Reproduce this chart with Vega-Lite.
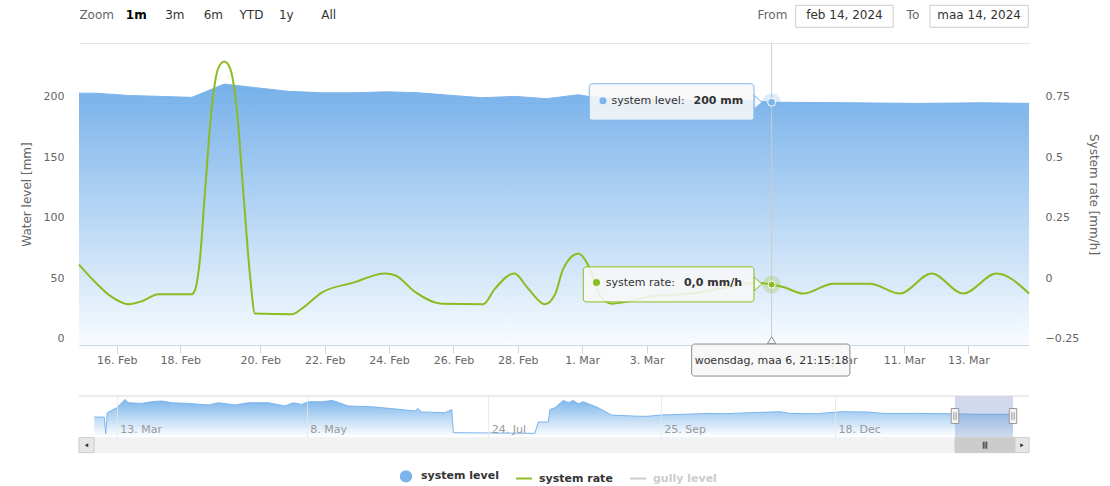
{
  "$schema": "https://vega.github.io/schema/vega-lite/v6.json",
  "padding": {"left": 20, "top": 4, "right": 14, "bottom": 2},
  "bounds": "flush",
  "spacing": 51,
  "config": {
    "view": {"stroke": null},
    "font": "DejaVu Sans",
    "axis": {"labelFont": "DejaVu Sans", "titleFont": "DejaVu Sans"},
    "legend": {"labelFont": "DejaVu Sans"}
  },
  "datasets": {
    "level": [
      {"t": "2024-02-14T19:30Z", "v": 208.5},
      {"t": "2024-02-15T07:35Z", "v": 208.5},
      {"t": "2024-02-16T08:43Z", "v": 206.6},
      {"t": "2024-02-18T06:50Z", "v": 205},
      {"t": "2024-02-19T02:24Z", "v": 216},
      {"t": "2024-02-20T20:53Z", "v": 210},
      {"t": "2024-02-21T21:46Z", "v": 208.8},
      {"t": "2024-02-22T22:32Z", "v": 208.8},
      {"t": "2024-02-23T22:15Z", "v": 209.6},
      {"t": "2024-02-24T21:48Z", "v": 208.8},
      {"t": "2024-02-26T21:04Z", "v": 204.7},
      {"t": "2024-02-27T21:53Z", "v": 205.8},
      {"t": "2024-02-28T21:32Z", "v": 203.9},
      {"t": "2024-02-29T21:06Z", "v": 207.2},
      {"t": "2024-03-01T06:00Z", "v": 205.5},
      {"t": "2024-03-02T04:11Z", "v": 204},
      {"t": "2024-03-04T15:50Z", "v": 202.5},
      {"t": "2024-03-06T07:34Z", "v": 202.2},
      {"t": "2024-03-06T21:15Z", "v": 201},
      {"t": "2024-03-09T07:39Z", "v": 200.5},
      {"t": "2024-03-11T09:23Z", "v": 200},
      {"t": "2024-03-13T11:02Z", "v": 200.5},
      {"t": "2024-03-14T21:10Z", "v": 200}
    ],
    "rate": [
      {"t": "2024-02-14T19:30Z", "r": 0.083},
      {"t": "2024-02-15T07:35Z", "r": 0.011},
      {"t": "2024-02-15T20:12Z", "r": -0.051},
      {"t": "2024-02-16T08:43Z", "r": -0.081},
      {"t": "2024-02-16T18:51Z", "r": -0.069},
      {"t": "2024-02-17T07:23Z", "r": -0.04},
      {"t": "2024-02-18T06:50Z", "r": -0.04},
      {"t": "2024-02-18T08:49Z", "r": -0.023},
      {"t": "2024-02-18T11:49Z", "r": 0.108},
      {"t": "2024-02-18T14:49Z", "r": 0.384},
      {"t": "2024-02-18T18:50Z", "r": 0.73},
      {"t": "2024-02-18T22:48Z", "r": 0.896},
      {"t": "2024-02-19T02:24Z", "r": 0.923},
      {"t": "2024-02-19T05:49Z", "r": 0.896},
      {"t": "2024-02-19T09:50Z", "r": 0.73},
      {"t": "2024-02-19T13:48Z", "r": 0.384},
      {"t": "2024-02-19T17:49Z", "r": 0.039},
      {"t": "2024-02-19T20:49Z", "r": -0.12},
      {"t": "2024-02-20T23:25Z", "r": -0.123},
      {"t": "2024-02-21T06:52Z", "r": -0.1},
      {"t": "2024-02-21T21:46Z", "r": -0.033},
      {"t": "2024-02-22T21:20Z", "r": 0.008},
      {"t": "2024-02-23T20:58Z", "r": 0.046},
      {"t": "2024-02-24T04:25Z", "r": 0.039},
      {"t": "2024-02-24T19:20Z", "r": -0.03},
      {"t": "2024-02-25T15:15Z", "r": -0.079},
      {"t": "2024-02-26T22:16Z", "r": -0.081},
      {"t": "2024-02-27T06:59Z", "r": -0.017},
      {"t": "2024-02-27T21:23Z", "r": 0.046},
      {"t": "2024-02-28T07:49Z", "r": -0.017},
      {"t": "2024-02-28T20:15Z", "r": -0.081},
      {"t": "2024-02-29T03:43Z", "r": -0.041},
      {"t": "2024-02-29T09:55Z", "r": 0.066},
      {"t": "2024-02-29T21:06Z", "r": 0.129},
      {"t": "2024-03-01T05:48Z", "r": 0.066},
      {"t": "2024-03-01T13:16Z", "r": -0.044},
      {"t": "2024-03-01T21:59Z", "r": -0.079},
      {"t": "2024-03-03T02:33Z", "r": -0.05},
      {"t": "2024-03-04T15:50Z", "r": -0.033},
      {"t": "2024-03-05T11:44Z", "r": -0.01},
      {"t": "2024-03-06T10:06Z", "r": 0.008},
      {"t": "2024-03-06T21:15Z", "r": 0.0},
      {"t": "2024-03-07T05:56Z", "r": -0.01},
      {"t": "2024-03-07T20:50Z", "r": -0.037},
      {"t": "2024-03-08T19:12Z", "r": 0.004},
      {"t": "2024-03-09T22:34Z", "r": 0.004},
      {"t": "2024-03-10T20:56Z", "r": -0.037},
      {"t": "2024-03-11T20:34Z", "r": 0.046},
      {"t": "2024-03-12T20:08Z", "r": -0.037},
      {"t": "2024-03-13T21:02Z", "r": 0.046},
      {"t": "2024-03-14T21:10Z", "r": -0.037}
    ],
    "nav": [
      {"t": "2023-03-06T11:00Z", "v": 180},
      {"t": "2023-03-09T09:00Z", "v": 180},
      {"t": "2023-03-09T19:00Z", "v": 30},
      {"t": "2023-03-10T06:00Z", "v": 219},
      {"t": "2023-03-13T00:00Z", "v": 264},
      {"t": "2023-03-15T11:00Z", "v": 339},
      {"t": "2023-03-16T10:00Z", "v": 309},
      {"t": "2023-03-20T09:00Z", "v": 303},
      {"t": "2023-03-23T08:00Z", "v": 318},
      {"t": "2023-03-26T06:00Z", "v": 325},
      {"t": "2023-03-29T05:00Z", "v": 309},
      {"t": "2023-04-03T02:00Z", "v": 303},
      {"t": "2023-04-09T00:00Z", "v": 289},
      {"t": "2023-04-11T23:00Z", "v": 309},
      {"t": "2023-04-16T21:00Z", "v": 289},
      {"t": "2023-04-20T19:00Z", "v": 309},
      {"t": "2023-04-26T16:00Z", "v": 309},
      {"t": "2023-05-01T14:00Z", "v": 280},
      {"t": "2023-05-04T01:00Z", "v": 309},
      {"t": "2023-05-06T12:00Z", "v": 294},
      {"t": "2023-05-08T16:00Z", "v": 318},
      {"t": "2023-05-14T09:00Z", "v": 318},
      {"t": "2023-05-18T21:00Z", "v": 330},
      {"t": "2023-05-25T15:00Z", "v": 280},
      {"t": "2023-06-05T23:00Z", "v": 271},
      {"t": "2023-06-22T22:00Z", "v": 235},
      {"t": "2023-06-24T02:00Z", "v": 258},
      {"t": "2023-06-25T18:00Z", "v": 226},
      {"t": "2023-07-05T16:00Z", "v": 219},
      {"t": "2023-07-08T12:00Z", "v": 249},
      {"t": "2023-07-09T04:00Z", "v": 39},
      {"t": "2023-08-10T01:00Z", "v": 33},
      {"t": "2023-08-11T06:00Z", "v": 135},
      {"t": "2023-08-14T22:00Z", "v": 135},
      {"t": "2023-08-15T13:00Z", "v": 249},
      {"t": "2023-08-17T09:00Z", "v": 264},
      {"t": "2023-08-20T10:00Z", "v": 330},
      {"t": "2023-08-22T06:00Z", "v": 309},
      {"t": "2023-08-24T01:00Z", "v": 330},
      {"t": "2023-08-25T21:00Z", "v": 300},
      {"t": "2023-08-27T17:00Z", "v": 318},
      {"t": "2023-09-01T15:00Z", "v": 271},
      {"t": "2023-09-07T02:00Z", "v": 198},
      {"t": "2023-09-14T23:00Z", "v": 189},
      {"t": "2023-09-19T21:00Z", "v": 186},
      {"t": "2023-09-25T00:00Z", "v": 198},
      {"t": "2023-10-18T18:00Z", "v": 213},
      {"t": "2023-10-25T04:00Z", "v": 210},
      {"t": "2023-11-07T01:00Z", "v": 219},
      {"t": "2023-11-21T12:00Z", "v": 228},
      {"t": "2023-11-26T07:00Z", "v": 213},
      {"t": "2023-12-09T04:00Z", "v": 210},
      {"t": "2023-12-21T07:00Z", "v": 228},
      {"t": "2024-01-02T13:00Z", "v": 226},
      {"t": "2024-01-10T16:00Z", "v": 213},
      {"t": "2024-01-27T01:00Z", "v": 213},
      {"t": "2024-02-12T09:00Z", "v": 210},
      {"t": "2024-02-29T00:00Z", "v": 204},
      {"t": "2024-03-14T05:30Z", "v": 204},
      {"t": "2024-03-14T21:10Z", "v": 200}
    ],
    "toprow": [
      {"t": "2024-02-15T08:52Z", "v": 272.9, "label": "Zoom", "kind": "lbl"},
      {"t": "2024-02-16T14:46Z", "v": 272.9, "label": "1m", "kind": "sel"},
      {"t": "2024-02-17T19:51Z", "v": 272.9, "label": "3m", "kind": "btn"},
      {"t": "2024-02-18T19:48Z", "v": 272.9, "label": "6m", "kind": "btn"},
      {"t": "2024-02-19T18:43Z", "v": 272.9, "label": "YTD", "kind": "btn"},
      {"t": "2024-02-20T19:23Z", "v": 272.9, "label": "1y", "kind": "btn"},
      {"t": "2024-02-22T03:00Z", "v": 272.9, "label": "All", "kind": "btn"},
      {"t": "2024-03-06T21:53Z", "v": 272.9, "label": "From", "kind": "lbl"},
      {"t": "2024-03-11T06:37Z", "v": 272.9, "label": "To", "kind": "lbl"},
      {"t": "2024-03-09T03:33Z", "v": 272.9, "label": "feb 14, 2024", "kind": "date"},
      {"t": "2024-03-13T08:00Z", "v": 272.9, "label": "maa 14, 2024", "kind": "date"}
    ]
  },
  "vconcat": [
    {
      "width": 950,
      "height": 302,
      "encoding": {
        "x": {
          "field": "t", "type": "quantitative",
          "scale": {
            "type": "linear",
            "domain": [1707939000000, 1708214400000, 1708387200000, 1710450600000],
            "range": [0, 101.3, 181.3, 950],
            "nice": false,
            "zero": false
          },
          "axis": {
            "title": null,
            "values": [1708041600000, 1708214400000, 1708387200000, 1708560000000, 1708732800000, 1708905600000, 1709078400000, 1709251200000, 1709424000000, 1709596800000, 1709769600000, 1709942400000, 1710115200000, 1710288000000],
            "labelExpr": "utcFormat(datum.value, '%-d. %b')",
            "grid": false,
            "labelFontSize": 11,
            "labelColor": "#666666",
            "domainColor": "#ccd6eb",
            "tickColor": "#ccd6eb",
            "tickSize": 8,
            "labelPadding": 1,
            "labelFlush": false,
            "labelOverlap": false
          }
        }
      },
      "layer": [
        {
          "encoding": {
            "y": {
              "field": "v", "type": "quantitative",
              "scale": {"domain": [0, 250], "nice": false, "zero": false},
              "axis": {
                "orient": "left",
                "title": "Water level [mm]",
                "titleFontSize": 12,
                "titleFontWeight": "normal",
                "titleColor": "#666666",
                "titlePadding": 10,
                "values": [0, 50, 100, 150, 200, 250],
                "labelExpr": "datum.value == 250 ? '' : datum.label",
                "labelFontSize": 11,
                "labelColor": "#666666",
                "labelPadding": 15,
                "labelBaseline": "middle",
                "labelOffset": -6.5,
                "labelFlush": false,
                "labelOverlap": false,
                "ticks": false,
                "domain": false,
                "grid": true,
                "gridColor": "#e6e6e6"
              }
            }
          },
          "layer": [
            {
              "data": {"name": "level", "format": {"parse": {"t": "date"}}},
              "mark": {
                "type": "area",
                "opacity": 1,
                "fillOpacity": 0.85,
                "fill": {
                  "gradient": "linear", "x1": 0, "y1": 0, "x2": 0, "y2": 1,
                  "stops": [
                    {"offset": 0, "color": "#5ea3e6"},
                    {"offset": 1, "color": "#f7fbff"}
                  ]
                },
                "line": {"color": "#7cb5ec", "strokeWidth": 1}
              }
            },
            {
              "data": {"values": [{"t": "2024-03-06T21:15:18Z", "v": 0, "v2": 250}], "format": {"parse": {"t": "date"}}},
              "mark": {"type": "rule", "color": "#cccccc", "strokeWidth": 1},
              "encoding": {"y2": {"field": "v2"}}
            },
            {
              "data": {"values": [{"t": "2024-03-06T21:15:18Z", "v": 201}], "format": {"parse": {"t": "date"}}},
              "mark": {"type": "point", "filled": true, "shape": "circle", "size": 324, "color": "#7cb5ec", "opacity": 0.25}
            },
            {
              "data": {"values": [{"t": "2024-03-06T21:15:18Z", "v": 201}], "format": {"parse": {"t": "date"}}},
              "mark": {"type": "point", "filled": true, "shape": "circle", "size": 64, "fill": "#7cb5ec", "stroke": "#ffffff", "strokeWidth": 1, "opacity": 1}
            },
            {
              "data": {"values": [
                {"t": "2024-03-07T15:10Z", "t2": "2024-03-10T15:56Z", "v": 281.2, "v2": 263},
                {"t": "2024-03-11T19:18Z", "t2": "2024-03-14T20:36Z", "v": 281.2, "v2": 263}
              ], "format": {"parse": {"t": "date", "t2": "date"}}},
              "mark": {"type": "rect", "fill": "#ffffff", "stroke": "#cccccc", "strokeWidth": 1},
              "encoding": {"x2": {"field": "t2"}, "y2": {"field": "v2"}}
            },
            {
              "data": {"name": "toprow", "format": {"parse": {"t": "date"}}},
              "transform": [{"filter": "datum.kind == 'lbl'"}],
              "mark": {"type": "text", "align": "center", "baseline": "middle", "fontSize": 12, "color": "#666666"},
              "encoding": {"text": {"field": "label"}}
            },
            {
              "data": {"name": "toprow", "format": {"parse": {"t": "date"}}},
              "transform": [{"filter": "datum.kind == 'sel'"}],
              "mark": {"type": "text", "align": "center", "baseline": "middle", "fontSize": 12, "fontWeight": "bold", "color": "#000000"},
              "encoding": {"text": {"field": "label"}}
            },
            {
              "data": {"name": "toprow", "format": {"parse": {"t": "date"}}},
              "transform": [{"filter": "datum.kind == 'btn' || datum.kind == 'date'"}],
              "mark": {"type": "text", "align": "center", "baseline": "middle", "fontSize": 12, "color": "#333333"},
              "encoding": {"text": {"field": "label"}}
            },
            {
              "data": {"values": [{"t": "2024-03-06T11:04Z", "v": 201}], "format": {"parse": {"t": "date"}}},
              "mark": {"type": "point", "filled": true, "shape": "M-1,-1.75L1,0L-1,1.75Z", "size": 64, "fill": "#f7f7f7", "stroke": "#7cb5ec", "strokeWidth": 1, "opacity": 1}
            },
            {
              "data": {"values": [{"t": "2024-03-01T05:17Z", "t2": "2024-03-06T08:05Z", "v": 216.3, "v2": 186.1}], "format": {"parse": {"t": "date", "t2": "date"}}},
              "mark": {"type": "rect", "fill": "#f7f7f7", "fillOpacity": 0.88, "stroke": "#7cb5ec", "strokeWidth": 1, "cornerRadius": 3},
              "encoding": {"x2": {"field": "t2"}, "y2": {"field": "v2"}}
            },
            {
              "data": {"values": [{"t": "2024-03-01T15:30Z", "v": 202.2}], "format": {"parse": {"t": "date"}}},
              "mark": {"type": "point", "filled": true, "shape": "circle", "size": 49, "color": "#7cb5ec", "opacity": 1}
            },
            {
              "data": {"values": [{"t": "2024-03-01T21:50Z", "v": 202.2, "label": "system level:"}], "format": {"parse": {"t": "date"}}},
              "mark": {"type": "text", "align": "left", "baseline": "middle", "fontSize": 11, "color": "#333333"},
              "encoding": {"text": {"field": "label"}}
            },
            {
              "data": {"values": [{"t": "2024-03-04T11:00Z", "v": 202.2, "label": "200 mm"}], "format": {"parse": {"t": "date"}}},
              "mark": {"type": "text", "align": "left", "baseline": "middle", "fontSize": 11, "fontWeight": "bold", "color": "#333333"},
              "encoding": {"text": {"field": "label"}}
            },
            {
              "data": {"values": [{"t": "2024-03-06T21:15:18Z", "v": 4.0}], "format": {"parse": {"t": "date"}}},
              "mark": {"type": "point", "filled": true, "shape": "M-1.2,1L0,-1L1.2,1Z", "size": 49, "fill": "#f7f7f7", "stroke": "#8c8c8c", "strokeWidth": 1, "opacity": 1}
            },
            {
              "data": {"values": [{"t": "2024-03-04T09:38Z", "t2": "2024-03-09T07:39Z", "v": 0.8, "v2": -25.7}], "format": {"parse": {"t": "date", "t2": "date"}}},
              "mark": {"type": "rect", "fill": "#f7f7f7", "fillOpacity": 0.92, "stroke": "#8c8c8c", "strokeWidth": 1, "cornerRadius": 3},
              "encoding": {"x2": {"field": "t2"}, "y2": {"field": "v2"}}
            },
            {
              "data": {"values": [{"t": "2024-03-06T21:15:18Z", "v": -13.3, "label": "woensdag, maa 6, 21:15:18"}], "format": {"parse": {"t": "date"}}},
              "mark": {"type": "text", "align": "center", "baseline": "middle", "fontSize": 11, "color": "#333333"},
              "encoding": {"text": {"field": "label"}}
            },
            {
              "data": {"values": [
                {"series": "system level", "t": "2024-02-20T00:00Z", "v": 100},
                {"series": "system rate", "t": "2024-02-20T00:00Z", "v": 100},
                {"series": "gully level", "t": "2024-02-20T00:00Z", "v": 100}
              ], "format": {"parse": {"t": "date"}}},
              "mark": {"type": "point", "filled": true, "opacity": 0},
              "encoding": {
                "color": {
                  "field": "series", "type": "nominal",
                  "scale": {"domain": ["system level", "system rate", "gully level"], "range": ["#7cb5ec", "#8bbc21", "#cccccc"]},
                  "legend": {
                    "title": null, "orient": "none", "direction": "horizontal",
                    "legendX": 318, "legendY": 424,
                    "labelFontSize": 11, "labelFontWeight": "bold", "labelColor": "#333333",
                    "symbolSize": 256, "symbolStrokeWidth": 2, "labelOffset": 6, "columnPadding": 13,
                    "encode": {
                      "symbols": {"update": {"fill": {"scale": "color", "field": "value"}, "stroke": {"scale": "color", "field": "value"}, "opacity": {"value": 1}, "strokeWidth": {"value": 2}}},
                      "labels": {"update": {"fill": {"signal": "datum.value === 'gully level' ? '#cccccc' : '#333333'"}}}
                    }
                  }
                },
                "shape": {
                  "field": "series", "type": "nominal",
                  "scale": {"domain": ["system level", "system rate", "gully level"], "range": ["M-0.65,0A0.65,0.65,0,1,0,0.65,0A0.65,0.65,0,1,0,-0.65,0Z", "M-1,0H1", "M-1,0H1"]},
                  "legend": {
                    "title": null, "orient": "none", "direction": "horizontal",
                    "legendX": 318, "legendY": 424,
                    "labelFontSize": 11, "labelFontWeight": "bold", "labelColor": "#333333",
                    "symbolSize": 256, "symbolStrokeWidth": 2, "labelOffset": 6, "columnPadding": 13,
                    "encode": {
                      "symbols": {"update": {"fill": {"scale": "color", "field": "value"}, "stroke": {"scale": "color", "field": "value"}, "opacity": {"value": 1}, "strokeWidth": {"value": 2}}},
                      "labels": {"update": {"fill": {"signal": "datum.value === 'gully level' ? '#cccccc' : '#333333'"}}}
                    }
                  }
                }
              }
            }
          ]
        },
        {
          "encoding": {
            "y": {
              "field": "r", "type": "quantitative",
              "scale": {"domain": [-0.25, 1], "nice": false, "zero": false},
              "axis": {
                "orient": "right",
                "title": "System rate [mm/h]",
                "titleFontSize": 12,
                "titleFontWeight": "normal",
                "titleColor": "#666666",
                "titlePadding": 8,
                "values": [-0.25, 0, 0.25, 0.5, 0.75],
                "format": ".2~f",
                "labelFontSize": 11,
                "labelColor": "#666666",
                "labelPadding": 16,
                "labelBaseline": "middle",
                "labelOffset": -6.5,
                "labelFlush": false,
                "labelOverlap": false,
                "ticks": false,
                "domain": false,
                "grid": false
              }
            }
          },
          "layer": [
            {
              "data": {"name": "rate", "format": {"parse": {"t": "date"}}},
              "mark": {"type": "line", "color": "#8bbc21", "strokeWidth": 2, "interpolate": "monotone"}
            },
            {
              "data": {"values": [{"t": "2024-03-06T21:15:18Z", "r": 0.0}], "format": {"parse": {"t": "date"}}},
              "mark": {"type": "point", "filled": true, "shape": "circle", "size": 324, "color": "#8bbc21", "opacity": 0.25}
            },
            {
              "data": {"values": [{"t": "2024-03-06T21:15:18Z", "r": 0.0}], "format": {"parse": {"t": "date"}}},
              "mark": {"type": "point", "filled": true, "shape": "circle", "size": 49, "fill": "#8bbc21", "stroke": "#ffffff", "strokeWidth": 1, "opacity": 1}
            },
            {
              "data": {"values": [{"t": "2024-03-06T11:04Z", "r": 0.003}], "format": {"parse": {"t": "date"}}},
              "mark": {"type": "point", "filled": true, "shape": "M-1,-1.75L1,0L-1,1.75Z", "size": 64, "fill": "#f7f7f7", "stroke": "#8bbc21", "strokeWidth": 1, "opacity": 1}
            },
            {
              "data": {"values": [{"t": "2024-03-01T00:49Z", "t2": "2024-03-06T08:05Z", "r": 0.0734, "r2": -0.0717}], "format": {"parse": {"t": "date", "t2": "date"}}},
              "mark": {"type": "rect", "fill": "#f7f7f7", "fillOpacity": 0.88, "stroke": "#8bbc21", "strokeWidth": 1, "cornerRadius": 3},
              "encoding": {"x2": {"field": "t2"}, "y2": {"field": "r2"}}
            },
            {
              "data": {"values": [{"t": "2024-03-01T10:40Z", "r": 0.0083}], "format": {"parse": {"t": "date"}}},
              "mark": {"type": "point", "filled": true, "shape": "circle", "size": 49, "color": "#8bbc21", "opacity": 1}
            },
            {
              "data": {"values": [{"t": "2024-03-01T17:31Z", "r": 0.0083, "label": "system rate:"}], "format": {"parse": {"t": "date"}}},
              "mark": {"type": "text", "align": "left", "baseline": "middle", "fontSize": 11, "color": "#333333"},
              "encoding": {"text": {"field": "label"}}
            },
            {
              "data": {"values": [{"t": "2024-03-04T03:53Z", "r": 0.0083, "label": "0,0 mm/h"}], "format": {"parse": {"t": "date"}}},
              "mark": {"type": "text", "align": "left", "baseline": "middle", "fontSize": 11, "fontWeight": "bold", "color": "#333333"},
              "encoding": {"text": {"field": "label"}}
            }
          ]
        }
      ],
      "resolve": {"scale": {"y": "independent"}}
    },
    {
      "width": 950,
      "height": 41,
      "encoding": {
        "x": {
          "field": "t", "type": "quantitative",
          "scale": {
            "type": "linear",
            "domain": [1677715200000, 1678665600000, 1683504000000, 1690156800000, 1695600000000, 1702857600000, 1707939000000, 1710450600000, 1711152000000],
            "range": [0, 37.7, 227.7, 409.3, 581.7, 756, 876, 934, 950],
            "nice": false,
            "zero": false
          },
          "axis": {
            "title": null,
            "zindex": 1,
            "values": [1678665600000, 1683504000000, 1690156800000, 1695600000000, 1702857600000],
            "labelExpr": "utcFormat(datum.value, '%-d. %b')",
            "grid": true,
            "gridColor": "#e6e6e6",
            "gridOpacity": 0.8,
            "ticks": false,
            "domain": false,
            "labelAlign": "left",
            "labelBaseline": "alphabetic",
            "labelPadding": -5,
            "labelOffset": 3,
            "labelColor": "#999999",
            "labelFontSize": 11,
            "labelFlush": false,
            "labelOverlap": false
          }
        },
        "y": {
          "field": "v", "type": "quantitative",
          "scale": {"domain": [0, 370], "nice": false, "zero": false},
          "axis": null
        }
      },
      "layer": [
        {
          "data": {"values": [{"t": "2023-03-02T00:00Z", "t2": "2024-03-23T00:00Z", "v": -6, "v2": -141}], "format": {"parse": {"t": "date", "t2": "date"}}},
          "mark": {"type": "rect", "fill": "#f2f2f2", "stroke": "#f2f2f2"},
          "encoding": {"x2": {"field": "t2"}, "y2": {"field": "v2"}}
        },
        {
          "data": {"values": [{"t": "2024-02-14T19:30Z", "t2": "2024-03-15T21:32Z", "v": -6, "v2": -141}], "format": {"parse": {"t": "date", "t2": "date"}}},
          "mark": {"type": "rect", "fill": "#cccccc", "stroke": "#cccccc"},
          "encoding": {"x2": {"field": "t2"}, "y2": {"field": "v2"}}
        },
        {
          "data": {"values": [
            {"t": "2023-03-02T00:00Z", "t2": "2023-03-06T10:00Z", "v": -6, "v2": -141},
            {"t": "2024-03-15T21:32Z", "t2": "2024-03-23T00:00Z", "v": -6, "v2": -141}
          ], "format": {"parse": {"t": "date", "t2": "date"}}},
          "mark": {"type": "rect", "fill": "#e6e6e6", "stroke": "#cccccc"},
          "encoding": {"x2": {"field": "t2"}, "y2": {"field": "v2"}}
        },
        {
          "data": {"values": [{"t": "2023-03-04T04:30Z", "v": -74}], "format": {"parse": {"t": "date"}}},
          "mark": {"type": "point", "filled": true, "shape": "triangle-left", "size": 16, "color": "#333333", "opacity": 1}
        },
        {
          "data": {"values": [{"t": "2024-03-19T10:50Z", "v": -74}], "format": {"parse": {"t": "date"}}},
          "mark": {"type": "point", "filled": true, "shape": "triangle-right", "size": 16, "color": "#333333", "opacity": 1}
        },
        {
          "data": {"values": [{"t": "2024-02-29T20:30Z", "v": -74}], "format": {"parse": {"t": "date"}}},
          "mark": {"type": "point", "filled": false, "shape": "M-0.5,-1V1M0,-1V1M0.5,-1V1", "size": 49, "stroke": "#333333", "strokeWidth": 1, "opacity": 1}
        },
        {
          "data": {"name": "nav", "format": {"parse": {"t": "date"}}},
          "mark": {
            "type": "area",
            "opacity": 1,
            "fill": {
              "gradient": "linear", "x1": 0, "y1": 0, "x2": 0, "y2": 1,
              "stops": [
                {"offset": 0, "color": "#7cb5ec"},
                {"offset": 1, "color": "#ffffff"}
              ]
            },
            "line": {"color": "#7cb5ec", "strokeWidth": 1}
          }
        },
        {
          "data": {"values": [{"t": "2024-02-14T19:30Z", "t2": "2024-03-14T21:10Z", "v": 0, "v2": 370}], "format": {"parse": {"t": "date", "t2": "date"}}},
          "mark": {"type": "rect", "fill": "#6685c2", "opacity": 0.3},
          "encoding": {"x2": {"field": "t2"}, "y2": {"field": "v2"}}
        },
        {
          "data": {"values": [{"t": "2023-03-02T00:00Z", "t2": "2024-03-23T00:00Z", "v": 370}], "format": {"parse": {"t": "date", "t2": "date"}}},
          "mark": {"type": "rule", "color": "#d9d9d9", "strokeWidth": 1},
          "encoding": {"x2": {"field": "t2"}}
        },
        {
          "data": {"values": [
            {"t": "2024-02-14T19:30Z", "v": 189.4},
            {"t": "2024-03-14T21:10Z", "v": 189.4}
          ], "format": {"parse": {"t": "date"}}},
          "mark": {"type": "point", "filled": true, "shape": "M-0.5,-1H0.5V1H-0.5ZM-0.15,-0.5V0.5M0.15,-0.5V0.5", "size": 225, "fill": "#f2f2f2", "stroke": "#999999", "strokeWidth": 1, "opacity": 1}
        }
      ]
    }
  ]
}
